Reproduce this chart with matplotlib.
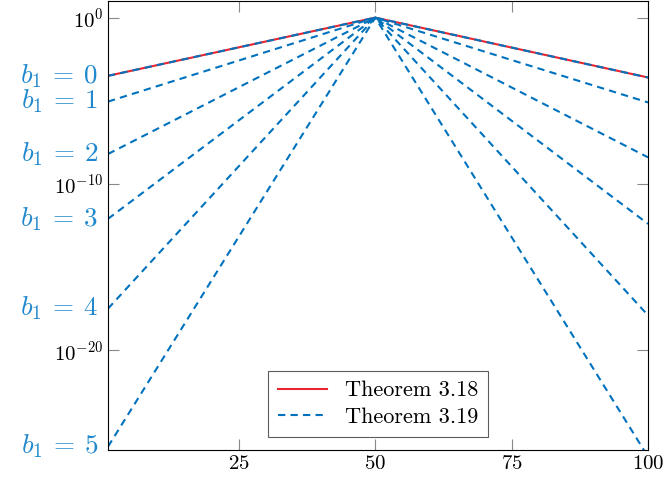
import numpy as np
import matplotlib
matplotlib.use("Agg")
import matplotlib.pyplot as plt

plt.rcParams['font.family'] = 'serif'
plt.rcParams['font.serif'] = ['cmr10', 'DejaVu Serif']
plt.rcParams['mathtext.fontset'] = 'cm'
plt.rcParams['axes.formatter.use_mathtext'] = True

# x positions of the computed points
x_vals = [1, 50, 100]

# log10 of the values for each b1 (left end, peak, right end)
b1_values = [0, 1, 2, 3, 4, 5]
log_left = [-3.5, -5.05, -8.2, -12.1, -17.5, -25.8]
log_peak = [0, 0, 0, 0, 0, 0]
log_right = [-3.6, -5.1, -8.4, -12.4, -17.9, -26.4]

# Theorem 3.18 (same as b1 = 0)
thm318_log = [-3.5, 0, -3.6]

red = '#e8262f'
blue = '#0072bd'
label_blue = '#2088cc'

fig = plt.figure(figsize=(6.65, 4.87), dpi=100)
ax = fig.add_axes([108 / 665, 1 - 450 / 487, 540 / 665, 449 / 487])

ax.plot(x_vals, 10.0 ** np.array(thm318_log), color=red, lw=1.5, label='Theorem 3.18')
for i, b in enumerate(b1_values):
    ys = 10.0 ** np.array([log_left[i], log_peak[i], log_right[i]])
    ax.plot(x_vals, ys, color=blue, lw=1.5, dashes=(3.5, 2.5),
            label='Theorem 3.19' if i == 0 else None)
    ax.text(-0.017, 10.0 ** log_left[i], r'$b_1 \:=\: %d$' % b, color=label_blue,
            fontsize=19.5, ha='right', va='center',
            transform=ax.get_yaxis_transform())

ax.set_yscale('log')
ax.set_xlim(1, 100)
ax.set_ylim(10.0 ** -26, 10.0 ** 1)
ax.set_xticks([25, 50, 75, 100])
ax.set_yticks([1e0, 1e-10, 1e-20])
ax.yaxis.set_minor_locator(matplotlib.ticker.NullLocator())
ax.tick_params(which='both', direction='in', top=True, right=True, length=8,
               color='#888888', labelsize=15, width=0.8)
for sp in ax.spines.values():
    sp.set_linewidth(0.8)
    sp.set_color('black')

leg = ax.legend(loc='lower center', fontsize=16, frameon=True, fancybox=False,
                edgecolor='#333333', borderaxespad=0.6, handlelength=2.2,
                borderpad=0.45, labelspacing=0.3)
leg.get_frame().set_linewidth(0.8)

fig.savefig('out.png', dpi=100)
